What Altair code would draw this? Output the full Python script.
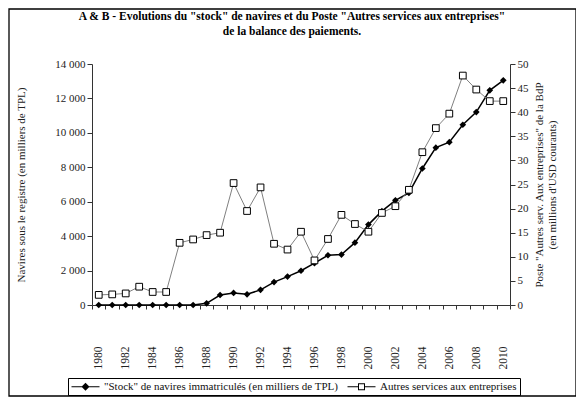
import altair as alt
import pandas as pd

years = list(range(1980, 2011))
stock = [0, 0, 0, 0, 0, 0, 0, 0, 100, 580, 700, 620, 880, 1330, 1650, 1990,
         2430, 2890, 2930, 3620, 4670, 5450, 6080, 6510, 7930, 9140, 9460,
         10470, 11210, 12470, 13050]
services = [2.1, 2.2, 2.4, 3.8, 2.7, 2.7, 12.9, 13.6, 14.5, 15.0, 25.3, 19.5,
            24.4, 12.7, 11.5, 15.2, 9.25, 13.7, 18.7, 16.8, 15.2, 19.1, 20.5,
            23.9, 31.7, 36.7, 39.7, 47.6, 44.7, 42.3, 42.3]

s1 = '"Stock" de navires immatriculés (en milliers de TPL)'
s2 = "Autres services aux entreprises"

df = pd.DataFrame({"year": years, "stock": stock, "services": services})
long = pd.DataFrame({"year": years + years,
                     "series": [s1] * len(years) + [s2] * len(years)})

FONT = "Liberation Serif"
W, H = 418, 241

xscale = alt.Scale(type="band", paddingInner=0, paddingOuter=0)
xenc = alt.X("year:O", scale=xscale,
             axis=alt.Axis(title=None, labelAngle=270, labelPadding=37,
                           labelExpr="datum.value % 2 == 0 ? datum.label : ''",
                           tickBand="extent", tickSize=4, labelFontSize=11.5,
                           labelColor="#222", domainColor="#333", tickColor="#333"))

yleft = alt.Y("stock:Q", scale=alt.Scale(domain=[0, 14000], nice=False),
              axis=alt.Axis(values=list(range(0, 14001, 2000)),
                            labelExpr="replace(format(datum.value, ','), ',', ' ')",
                            title="Navires sous le registre (en milliers de TPL)",
                            titleFontWeight="normal", titleFontSize=11,
                            titlePadding=28, tickSize=5, labelFontSize=11,
                            labelColor="#222", titleColor="#222",
                            domainColor="#333", tickColor="#333"))

yright = alt.Y("services:Q", scale=alt.Scale(domain=[0, 50], nice=False),
               axis=alt.Axis(orient="right", values=list(range(0, 51, 5)),
                             title=['Poste "Autres serv. Aux entreprises" de la BdP',
                                    "(en millions d'USD courants)"],
                             titleAngle=270, titleFontWeight="normal",
                             titleFontSize=11, titlePadding=3, tickSize=5,
                             labelFontSize=11, labelColor="#222",
                             titleColor="#222", domainColor="#333",
                             tickColor="#333"))

base = alt.Chart(df)
stock_line = base.mark_line(color="black", strokeWidth=1.5).encode(x=xenc, y=yleft)
stock_pts = base.mark_point(shape="diamond", filled=True, color="black",
                            size=45, opacity=1).encode(x=xenc, y=yleft)

# legend symbols drawn as filled shapes: a thin bar (line) with the marker on it
line_path1 = ("M-1,-0.1H4.6V0.1H-1Z"
              "M1.8,-0.8L2.6,0L1.8,0.8L1,0Z")
line_path2 = ("M-1,-0.1H1.1V0.1H-1Z"
              "M2.5,-0.1H4.6V0.1H2.5Z"
              "M1.1,-0.7H2.5V0.7H1.1Z"
              "M1.3,-0.5V0.5H2.3V-0.5Z")

leg = alt.Legend(title=None, orient="none", legendX=-24, legendY=314,
                 direction="horizontal", symbolSize=100, symbolOpacity=1,
                 symbolFillColor="black", symbolStrokeWidth=0,
                 labelFont=FONT, labelFontSize=11, labelColor="#111",
                 labelOffset=22, strokeColor="black", padding=3,
                 columnPadding=8, labelLimit=400)

legend_layer = alt.Chart(long).mark_point(opacity=0, filled=True,
                                          color="black").encode(
    x=alt.X("year:O", scale=xscale),
    y=alt.value(0),
    shape=alt.Shape("series:N", scale=alt.Scale(domain=[s1, s2],
                                                range=[line_path1, line_path2]),
                    legend=leg),
)

serv_line = base.mark_line(color="#808080", strokeWidth=1).encode(x=xenc, y=yright)
serv_pts = base.mark_point(shape="square", filled=False, color="black", fill="white",
                           fillOpacity=1, size=45, strokeWidth=1,
                           opacity=1).encode(x=xenc, y=yright)

frame_df = pd.DataFrame({"k": [0]})
frame = alt.Chart(frame_df).mark_rect(filled=False, color="black",
                                      strokeWidth=1.3).encode(
    x=alt.value(-83), x2=alt.value(W + 66), y=alt.value(-55), y2=alt.value(H + 91))

left = alt.layer(stock_line, stock_pts, legend_layer)
right = alt.layer(serv_line, serv_pts)

chart = alt.layer(left, right, frame).resolve_scale(y="independent").properties(
    width=W, height=H,
    title=alt.TitleParams(
        ['A & B - Evolutions du "stock" de navires et du Poste "Autres services aux entreprises"',
         "de la balance des paiements."],
        font=FONT, fontSize=11.5, fontWeight="bold", anchor="middle", dx=-9,
        offset=-29, lineHeight=15, color="black"),
    autosize=alt.AutoSizeParams(type="none"),
    padding={"left": 84, "top": 56, "right": 66, "bottom": 92},
).configure(font=FONT).configure_axis(labelFont=FONT, titleFont=FONT,
                                      grid=False).configure_view(stroke=None)

chart.save("out.html", embed_options={"renderer": "svg", "actions": False})
